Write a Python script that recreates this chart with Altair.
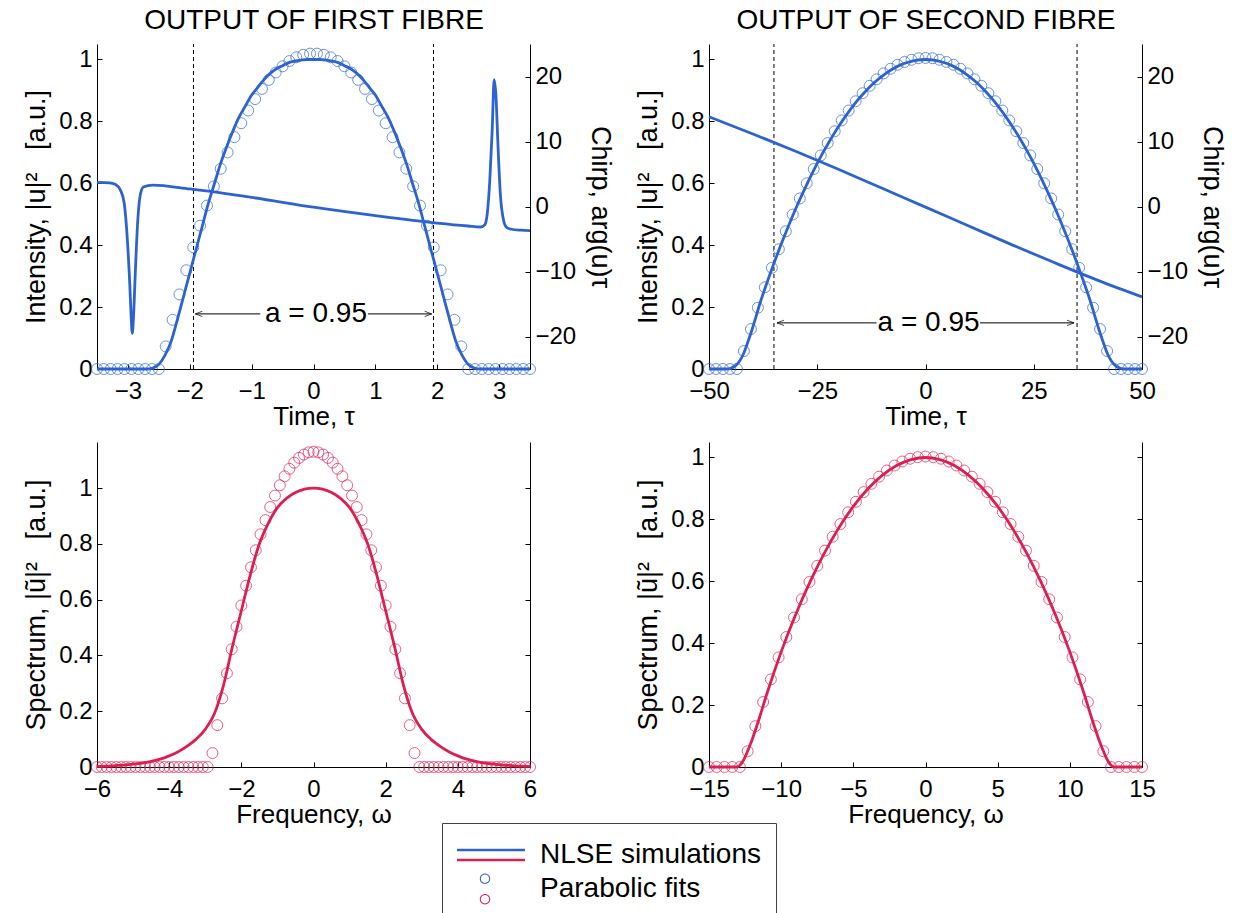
import altair as alt
import pandas as pd

FONT = "Liberation Sans"
BLUE = "#2d63d1"
RED = "#dc1e50"
INK = "#000000"
W, H = 1236, 913

# ---------------- values ----------------
# First fibre, time domain: NLSE intensity
tl_line_t = [-3.5, -2.7, -2.6, -2.5, -2.4, -2.3, -2.2, -2.1, -2.0, -1.9, -1.8, -1.7, -1.6, -1.5, -1.4,
             -1.3, -1.2, -1.1, -1.0, -0.9, -0.8, -0.7, -0.6, -0.5, -0.4, -0.3, -0.2, -0.1, 0.0,
             0.1, 0.2, 0.3, 0.4, 0.5, 0.6, 0.7, 0.8, 0.9, 1.0, 1.1, 1.2, 1.3, 1.4, 1.5, 1.6, 1.7,
             1.8, 1.9, 2.0, 2.1, 2.2, 2.3, 2.4, 2.5, 2.6, 2.7, 3.5]
tl_line_I = [0, 0, 0.003, 0.015, 0.045, 0.09, 0.16, 0.235, 0.31, 0.385, 0.46, 0.535, 0.60, 0.665, 0.72,
             0.77, 0.815, 0.85, 0.885, 0.91, 0.935, 0.955, 0.97, 0.98, 0.99, 0.995, 0.998, 1.0, 1.0,
             1.0, 0.998, 0.995, 0.99, 0.98, 0.97, 0.955, 0.935, 0.91, 0.885, 0.85, 0.815, 0.77, 0.72,
             0.665, 0.60, 0.535, 0.46, 0.385, 0.31, 0.235, 0.16, 0.09, 0.045, 0.015, 0.003, 0, 0]
# First fibre: chirp (right axis)
tl_chirp_t = [-3.5, -3.3, -3.2, -3.12, -3.06, -3.01, -2.97, -2.95, -2.93, -2.91, -2.88, -2.84, -2.8,
              -2.75, -2.6, -2.0, -1.0, 0.0, 1.0, 2.0, 2.5, 2.7, 2.77, 2.81, 2.85, 2.89, 2.92, 2.95,
              2.98, 3.02, 3.07, 3.12, 3.2, 3.35, 3.5]
tl_chirp_v = [3.7, 3.65, 3.4, 2.5, 0.5, -5, -12, -16.5, -19.5, -17, -10, -2, 1.8, 3.0, 3.3, 2.7,
              1.4, -0.1, -1.4, -2.55, -3.0, -3.15, -2.8, -1.0, 4, 12, 19.5, 17, 10, 2, -2, -3.2,
              -3.5, -3.65, -3.7]
# First fibre: parabolic fit
tl_fit_t = [-3.500, -3.389, -3.278, -3.167, -3.056, -2.944, -2.833, -2.722, -2.611, -2.500,
            -2.389, -2.278, -2.167, -2.056, -1.944, -1.833, -1.722, -1.611, -1.500, -1.389,
            -1.278, -1.167, -1.056, -0.944, -0.833, -0.722, -0.611, -0.500, -0.389, -0.278,
            -0.167, -0.056, 0.056, 0.167, 0.278, 0.389, 0.500, 0.611, 0.722, 0.833, 0.944,
            1.056, 1.167, 1.278, 1.389, 1.500, 1.611, 1.722, 1.833, 1.944, 2.056, 2.167, 2.278,
            2.389, 2.500, 2.611, 2.722, 2.833, 2.944, 3.056, 3.167, 3.278, 3.389, 3.500]
tl_fit_I = [0, 0, 0, 0, 0, 0, 0, 0, 0, 0,
            0.073, 0.159, 0.241, 0.319, 0.393, 0.463, 0.528, 0.590, 0.647, 0.700,
            0.749, 0.794, 0.835, 0.872, 0.905, 0.934, 0.958, 0.978, 0.995, 1.007,
            1.015, 1.019, 1.019, 1.015, 1.007, 0.995, 0.978, 0.958, 0.934, 0.905, 0.872,
            0.835, 0.794, 0.749, 0.700, 0.647, 0.590, 0.528, 0.463, 0.393, 0.319, 0.241, 0.159,
            0.073, 0, 0, 0, 0, 0, 0, 0, 0, 0, 0]
tl_marks = [-1.94, 1.94]
tl_arrow_from = [-1.91, 0.88]
tl_arrow_to = [-0.86, 1.91]
tl_arrow_y = [0.178, 0.178]
tl_label = ["a = 0.95"]
tl_label_t = [0.04]

# Second fibre, time domain
tr_line_t = [-50, -46, -45, -44, -43, -42, -41, -40, -38, -36, -34, -32, -30, -28, -26, -24, -22,
             -20, -18, -16, -14, -12, -10, -8, -6, -4, -2, 0, 2, 4, 6, 8, 10, 12, 14, 16, 18, 20,
             22, 24, 26, 28, 30, 32, 34, 36, 38, 40, 41, 42, 43, 44, 45, 46, 50]
tr_line_I = [0, 0, 0.002, 0.009, 0.024, 0.05, 0.088, 0.13, 0.222, 0.303, 0.379, 0.45, 0.517, 0.579,
             0.637, 0.691, 0.74, 0.785, 0.826, 0.863, 0.895, 0.923, 0.946, 0.966, 0.981, 0.991,
             0.998, 1.0, 0.998, 0.991, 0.981, 0.966, 0.946, 0.923, 0.895, 0.863, 0.826, 0.785,
             0.74, 0.691, 0.637, 0.579, 0.517, 0.45, 0.379, 0.303, 0.222, 0.13, 0.088, 0.05,
             0.024, 0.009, 0.002, 0, 0]
tr_chirp_t = [-50, -40, -30, -20, -10, 0, 10, 20, 30, 40, 50]
tr_chirp_v = [13.8, 11.2, 8.5, 5.7, 2.8, -0.1, -3.0, -5.9, -8.7, -11.4, -13.9]
tr_fit_t = [-50.00, -48.39, -46.77, -45.16, -43.55, -41.94, -40.32, -38.71, -37.10, -35.48,
            -33.87, -32.26, -30.65, -29.03, -27.42, -25.81, -24.19, -22.58, -20.97, -19.35,
            -17.74, -16.13, -14.52, -12.90, -11.29, -9.68, -8.06, -6.45, -4.84, -3.23, -1.61,
            0.00, 1.61, 3.23, 4.84, 6.45, 8.06, 9.68, 11.29, 12.90, 14.52, 16.13, 17.74, 19.35,
            20.97, 22.58, 24.19, 25.81, 27.42, 29.03, 30.65, 32.26, 33.87, 35.48, 37.10, 38.71,
            40.32, 41.94, 43.55, 45.16, 46.77, 48.39, 50.00]
tr_fit_I = [0, 0, 0, 0, 0, 0.058, 0.129, 0.198, 0.264, 0.327, 0.387, 0.445, 0.499, 0.551, 0.600,
            0.646, 0.690, 0.730, 0.768, 0.803, 0.835, 0.865, 0.891, 0.915, 0.936, 0.955, 0.970,
            0.983, 0.992, 0.999, 1.004, 1.005, 1.004, 0.999, 0.992, 0.983, 0.970, 0.955, 0.936,
            0.915, 0.891, 0.865, 0.835, 0.803, 0.768, 0.730, 0.690, 0.646, 0.600, 0.551, 0.499,
            0.445, 0.387, 0.327, 0.264, 0.198, 0.129, 0.058, 0, 0, 0, 0, 0]
tr_marks = [-35.0, 35.0]
tr_arrow_from = [-34.3, 12.6]
tr_arrow_to = [-11.3, 34.3]
tr_arrow_y = [0.149, 0.149]
tr_label = ["a = 0.95"]
tr_label_t = [0.7]

# First fibre, spectrum
bl_line_w = [-6.0, -5.75, -5.5, -5.25, -5.0, -4.75, -4.5, -4.25, -4.0, -3.75, -3.5, -3.25, -3.0,
             -2.75, -2.5, -2.25, -2.0, -1.75, -1.5, -1.25, -1.0, -0.75, -0.5, -0.25, 0.0, 0.25,
             0.5, 0.75, 1.0, 1.25, 1.5, 1.75, 2.0, 2.25, 2.5, 2.75, 3.0, 3.25, 3.5, 3.75, 4.0,
             4.25, 4.5, 4.75, 5.0, 5.25, 5.5, 5.75, 6.0]
bl_line_S = [0.002, 0.003, 0.005, 0.007, 0.010, 0.014, 0.020, 0.028, 0.040, 0.055, 0.075, 0.10,
             0.135, 0.19, 0.29, 0.43, 0.56, 0.69, 0.80, 0.875, 0.93, 0.963, 0.984, 0.996, 1.0,
             0.996, 0.984, 0.963, 0.93, 0.875, 0.80, 0.69, 0.56, 0.43, 0.29, 0.19, 0.135, 0.10,
             0.075, 0.055, 0.040, 0.028, 0.020, 0.014, 0.010, 0.007, 0.005, 0.003, 0.002]
bl_fit_w = [-6.000, -5.867, -5.733, -5.600, -5.467, -5.333, -5.200, -5.067, -4.933, -4.800,
            -4.667, -4.533, -4.400, -4.267, -4.133, -4.000, -3.867, -3.733, -3.600, -3.467,
            -3.333, -3.200, -3.067, -2.933, -2.800, -2.667, -2.533, -2.400, -2.267, -2.133,
            -2.000, -1.867, -1.733, -1.600, -1.467, -1.333, -1.200, -1.067, -0.933, -0.800,
            -0.667, -0.533, -0.400, -0.267, -0.133, 0.000, 0.133, 0.267, 0.400, 0.533, 0.667,
            0.800, 0.933, 1.067, 1.200, 1.333, 1.467, 1.600, 1.733, 1.867, 2.000, 2.133, 2.267,
            2.400, 2.533, 2.667, 2.800, 2.933, 3.067, 3.200, 3.333, 3.467, 3.600, 3.733, 3.867,
            4.000, 4.133, 4.267, 4.400, 4.533, 4.667, 4.800, 4.933, 5.067, 5.200, 5.333, 5.467,
            5.600, 5.733, 5.867, 6.000]
bl_fit_S = [0, 0, 0, 0, 0, 0, 0, 0, 0, 0, 0, 0, 0, 0, 0, 0, 0, 0, 0, 0, 0, 0, 0, 0,
            0.050, 0.150, 0.246, 0.336, 0.422, 0.503, 0.579, 0.650, 0.716, 0.777, 0.834, 0.885,
            0.932, 0.973, 1.010, 1.042, 1.069, 1.091, 1.108, 1.120, 1.128, 1.130, 1.128, 1.120,
            1.108, 1.091, 1.069, 1.042, 1.010, 0.973, 0.932, 0.885, 0.834, 0.777, 0.716, 0.650,
            0.579, 0.503, 0.422, 0.336, 0.246, 0.150, 0.050,
            0, 0, 0, 0, 0, 0, 0, 0, 0, 0, 0, 0, 0, 0, 0, 0, 0, 0, 0, 0, 0, 0, 0, 0]

# Second fibre, spectrum
br_line_w = [-15, -13.1, -12.9, -12.7, -12.5, -12.25, -12.0, -11.5, -11.0, -10, -9, -8, -7, -6, -5,
             -4, -3, -2, -1, 0, 1, 2, 3, 4, 5, 6, 7, 8, 9, 10, 11.0, 11.5, 12.0, 12.25, 12.5,
             12.7, 12.9, 13.1, 15]
br_line_S = [0, 0, 0.004, 0.015, 0.032, 0.06, 0.09, 0.16, 0.235, 0.372, 0.492, 0.598, 0.692,
             0.773, 0.842, 0.898, 0.942, 0.974, 0.993, 1.0, 0.993, 0.974, 0.942, 0.898, 0.842,
             0.773, 0.692, 0.598, 0.492, 0.372, 0.235, 0.16, 0.09, 0.06, 0.032, 0.015, 0.004, 0, 0]
br_fit_w = [-15.000, -14.464, -13.929, -13.393, -12.857, -12.321, -11.786, -11.250, -10.714,
            -10.179, -9.643, -9.107, -8.571, -8.036, -7.500, -6.964, -6.429, -5.893, -5.357,
            -4.821, -4.286, -3.750, -3.214, -2.679, -2.143, -1.607, -1.071, -0.536, 0.000, 0.536,
            1.071, 1.607, 2.143, 2.679, 3.214, 3.750, 4.286, 4.821, 5.357, 5.893, 6.429, 6.964,
            7.500, 8.036, 8.571, 9.107, 9.643, 10.179, 10.714, 11.250, 11.786, 12.321, 12.857,
            13.393, 13.929, 14.464, 15.000]
br_fit_S = [0, 0, 0, 0, 0, 0.051, 0.132, 0.210, 0.283, 0.354, 0.420, 0.483, 0.542, 0.598, 0.650,
            0.699, 0.744, 0.785, 0.823, 0.857, 0.888, 0.915, 0.938, 0.958, 0.974, 0.987, 0.996,
            1.001, 1.003, 1.001, 0.996, 0.987, 0.974, 0.958, 0.938, 0.915, 0.888, 0.857, 0.823,
            0.785, 0.744, 0.699, 0.650, 0.598, 0.542, 0.483, 0.420, 0.354, 0.283, 0.210, 0.132,
            0.051, 0, 0, 0, 0, 0]

# axis domains and tick labels
TL_DOM = [-3.5, 3.5]
TR_DOM = [-50, 50]
BL_DOM = [-6, 6]
BR_DOM = [-15, 15]
INT_DOM = [0, 1.05]
CHIRP_DOM = [-25, 25]
BL_YDOM = [0, 1.165]
BR_YDOM = [0, 1.05]
tl_xticks = [-3, -2, -1, 0, 1, 2, 3]
tr_xticks = [-50, -25, 0, 25, 50]
bl_xticks = [-6, -4, -2, 0, 2, 4, 6]
br_xticks = [-15, -10, -5, 0, 5, 10, 15]
int_ticks = [0, 0.2, 0.4, 0.6, 0.8, 1]
chirp_ticks = [-20, -10, 0, 10, 20]
legend_entries = ["NLSE simulations", "Parabolic fits"]

INT_TITLE = "Intensity, |u|\u00b2\u00a0\u00a0\u00a0[a.u.]"
SPEC_TITLE = "Spectrum, |\u0169|\u00b2\u00a0\u00a0\u00a0[a.u.]"
CHIRP_TITLE = "Chirp, arg(u)\u03c4"

# ---------------- layout (pixel ranges of each panel's scales) ----------------
XL = [97, 530]
XR = [709, 1142]
YT = [369, 44]
YB = [767, 442]

HEAD_LEFT = "M0,0L1,-0.38M0,0L1,0.38"
HEAD_RIGHT = "M0,0L-1,-0.38M0,0L-1,0.38"
BOX = "M0,-1M0,1M-1,0M3,0"
P_LINE_BLUE = BOX + "M-1,-0.37L3,-0.37L3,-0.218L-1,-0.218Z"
P_LINE_RED = BOX + "M-1,0.218L3,0.218L3,0.37L-1,0.37Z"
P_RING_BLUE = (BOX + "M0.953,-0.6A0.306,0.306 0 1,1 0.341,-0.6A0.306,0.306 0 1,1 0.953,-0.6Z"
               "M0.894,-0.6A0.247,0.247 0 1,0 0.4,-0.6A0.247,0.247 0 1,0 0.894,-0.6Z")
P_RING_RED = (BOX + "M0.953,0.6A0.306,0.306 0 1,1 0.341,0.6A0.306,0.306 0 1,1 0.953,0.6Z"
              "M0.894,0.6A0.247,0.247 0 1,0 0.4,0.6A0.247,0.247 0 1,0 0.894,0.6Z")


def sc(dom, rng):
    return alt.Scale(domain=dom, range=rng, nice=False, zero=False)


def ax(orient, offset, **kw):
    p = dict(orient=orient, offset=offset, grid=False,
             labelFont=FONT, labelFontSize=24, labelColor=INK,
             titleFont=FONT, titleFontSize=26, titleFontWeight="normal", titleColor=INK,
             domainColor=INK, domainWidth=1, tickColor=INK, tickWidth=1,
             labelFlush=False, labelOverlap=False, format="~f")
    p.update(kw)
    return alt.Axis(**p)


def ax_bottom(y, ticks, title):
    return ax("bottom", y - H, values=ticks, ticks=False, tickSize=0, labelPadding=10,
              title=title, titleBaseline="middle", titleY=47)


def ax_left(x, ticks, title):
    return ax("left", -x, values=ticks, ticks=False, tickSize=0, labelPadding=5,
              title=title, titleFontSize=27, titleBaseline="middle", titleX=-61, titleAngle=-90)


def ax_in_bottom(y, ticks):
    return ax("top", -y, values=ticks, labels=False, domain=False, ticks=True, tickSize=5, title=None)


def ax_in_left(x, ticks):
    return ax("right", x - W, values=ticks, labels=False, domain=False, ticks=True, tickSize=5, title=None)


def ax_in_right(x, ticks, spine):
    return ax("left", -x, values=ticks, labels=False, domain=spine, ticks=True, tickSize=5, title=None)


def ax_chirp(x):
    return ax("right", x - W, values=chirp_ticks, ticks=False, tickSize=0, labelPadding=5,
              title=CHIRP_TITLE, titleFontSize=27, titleBaseline="middle", titleX=69, titleAngle=90)


def ax_top_title(y, title):
    return ax("top", -y, labels=False, ticks=False, domain=False, title=title,
              titleFontSize=28, titleBaseline="middle", titleY=-24)


def time_panel(xdom, xr, line_t, line_v, chirp_t, chirp_v, fit_t, fit_v, xticks, title,
               marks, a_from, a_to, a_y, lab, lab_t):
    xs = lambda: sc(xdom, xr)
    ys = lambda: sc(INT_DOM, YT)
    cs = lambda: sc(CHIRP_DOM, YT)
    line = alt.Chart(pd.DataFrame({"t": line_t, "v": line_v})).mark_line(
        color=BLUE, strokeWidth=2.8, interpolate="monotone").encode(
        x=alt.X("t:Q", scale=xs(), axis=ax_bottom(YT[0], xticks, "Time, \u03c4")),
        y=alt.Y("v:Q", scale=ys(), axis=ax_left(xr[0], int_ticks, INT_TITLE)))
    fit = alt.Chart(pd.DataFrame({"t": fit_t, "v": fit_v})).mark_point(
        shape="circle", filled=False, size=120, strokeWidth=1, color=BLUE).encode(
        x=alt.X("t:Q", scale=xs(), axis=ax_in_bottom(YT[0], xticks)),
        y=alt.Y("v:Q", scale=ys(), axis=ax_in_left(xr[0], int_ticks)))
    chirp = alt.Chart(pd.DataFrame({"t": chirp_t, "c": chirp_v})).mark_line(
        color=BLUE, strokeWidth=2.8, interpolate="monotone").encode(
        x=alt.X("t:Q", scale=xs(), axis=ax_top_title(YT[1], title)),
        y=alt.Y("c:Q", scale=cs(), axis=ax_chirp(xr[1])))
    rules = alt.Chart(pd.DataFrame({"t": marks, "lo": [CHIRP_DOM[0]] * len(marks),
                                    "hi": [CHIRP_DOM[1]] * len(marks)})).mark_rule(
        color=INK, strokeWidth=1, strokeDash=[4, 3]).encode(
        x=alt.X("t:Q", scale=xs(), axis=None),
        y=alt.Y("lo:Q", scale=cs(), axis=ax_in_right(xr[1], chirp_ticks, False)),
        y2="hi:Q")
    arrows = alt.Chart(pd.DataFrame({"a": a_from, "b": a_to, "y": a_y})).mark_rule(
        color=INK, strokeWidth=1).encode(
        x=alt.X("a:Q", scale=xs(), axis=None), x2="b:Q",
        y=alt.Y("y:Q", scale=ys(), axis=None))
    head_l = alt.Chart(pd.DataFrame({"t": a_from[:1], "y": a_y[:1]})).mark_point(
        shape=HEAD_LEFT, size=196, filled=False, strokeWidth=1, color=INK).encode(
        x=alt.X("t:Q", scale=xs(), axis=None), y=alt.Y("y:Q", scale=ys(), axis=None))
    head_r = alt.Chart(pd.DataFrame({"t": a_to[-1:], "y": a_y[-1:]})).mark_point(
        shape=HEAD_RIGHT, size=196, filled=False, strokeWidth=1, color=INK).encode(
        x=alt.X("t:Q", scale=xs(), axis=None), y=alt.Y("y:Q", scale=ys(), axis=None))
    text = alt.Chart(pd.DataFrame({"t": lab_t, "y": a_y[:1], "s": lab})).mark_text(
        font=FONT, fontSize=28, color=INK, align="center", baseline="middle").encode(
        x=alt.X("t:Q", scale=xs(), axis=None), y=alt.Y("y:Q", scale=ys(), axis=None),
        text="s:N")
    return [rules, line, fit, chirp, arrows, head_l, head_r, text]


def spec_panel(xdom, xr, ydom, line_w, line_s, fit_w, fit_s, xticks):
    xs = lambda: sc(xdom, xr)
    ys = lambda: sc(ydom, YB)
    line = alt.Chart(pd.DataFrame({"w": line_w, "s": line_s})).mark_line(
        color=RED, strokeWidth=2.8, interpolate="monotone").encode(
        x=alt.X("w:Q", scale=xs(), axis=ax_bottom(YB[0], xticks, "Frequency, \u03c9")),
        y=alt.Y("s:Q", scale=ys(), axis=ax_left(xr[0], int_ticks, SPEC_TITLE)))
    fit = alt.Chart(pd.DataFrame({"w": fit_w, "s": fit_s})).mark_point(
        shape="circle", filled=False, size=120, strokeWidth=1, color=RED).encode(
        x=alt.X("w:Q", scale=xs(), axis=ax_in_bottom(YB[0], xticks)),
        y=alt.Y("s:Q", scale=ys(), axis=ax_in_left(xr[0], int_ticks)))
    frame = alt.Chart(pd.DataFrame({"w": fit_w, "s": fit_s})).mark_point(opacity=0).encode(
        x=alt.X("w:Q", scale=xs(), axis=None),
        y=alt.Y("s:Q", scale=ys(), axis=ax_in_right(xr[1], int_ticks, True)))
    return [line, fit, frame]


def legend_layer(color, paths, labels_visible):
    kw = dict(orient="none", legendX=442, legendY=823, title=None, symbolSize=1156,
              symbolFillColor=color, symbolStrokeColor="transparent", symbolStrokeWidth=0,
              symbolOpacity=1, labelFont=FONT, labelFontSize=28, labelColor=INK,
              labelOffset=49, labelLimit=600, rowPadding=0, padding=15)
    if labels_visible:
        kw["strokeColor"] = "#404040"
    else:
        kw["labelOpacity"] = 0
    return alt.Chart(pd.DataFrame({"entry": legend_entries})).mark_point(
        filled=True, color=color, opacity=0).encode(
        shape=alt.Shape("entry:N", scale=alt.Scale(domain=legend_entries, range=paths),
                        legend=alt.Legend(**kw)))


layers = []
layers += time_panel(TL_DOM, XL, tl_line_t, tl_line_I, tl_chirp_t, tl_chirp_v, tl_fit_t, tl_fit_I,
                     tl_xticks, "OUTPUT OF FIRST FIBRE", tl_marks, tl_arrow_from, tl_arrow_to,
                     tl_arrow_y, tl_label, tl_label_t)
layers += time_panel(TR_DOM, XR, tr_line_t, tr_line_I, tr_chirp_t, tr_chirp_v, tr_fit_t, tr_fit_I,
                     tr_xticks, "OUTPUT OF SECOND FIBRE", tr_marks, tr_arrow_from, tr_arrow_to,
                     tr_arrow_y, tr_label, tr_label_t)
layers += spec_panel(BL_DOM, XL, BL_YDOM, bl_line_w, bl_line_S, bl_fit_w, bl_fit_S, bl_xticks)
layers += spec_panel(BR_DOM, XR, BR_YDOM, br_line_w, br_line_S, br_fit_w, br_fit_S, br_xticks)
layers.append(legend_layer(BLUE, [P_LINE_BLUE, P_RING_BLUE], True))
layers.append(legend_layer(RED, [P_LINE_RED, P_RING_RED], False))

chart = alt.layer(*layers).resolve_scale(
    x="independent", y="independent", shape="independent"
).resolve_axis(
    x="independent", y="independent"
).resolve_legend(
    shape="independent"
).properties(
    width=W, height=H, autosize=alt.AutoSizeParams(type="none"), padding=0, background="white"
).configure_view(stroke=None)

chart.save("out.html", embed_options={"renderer": "svg", "actions": False})
